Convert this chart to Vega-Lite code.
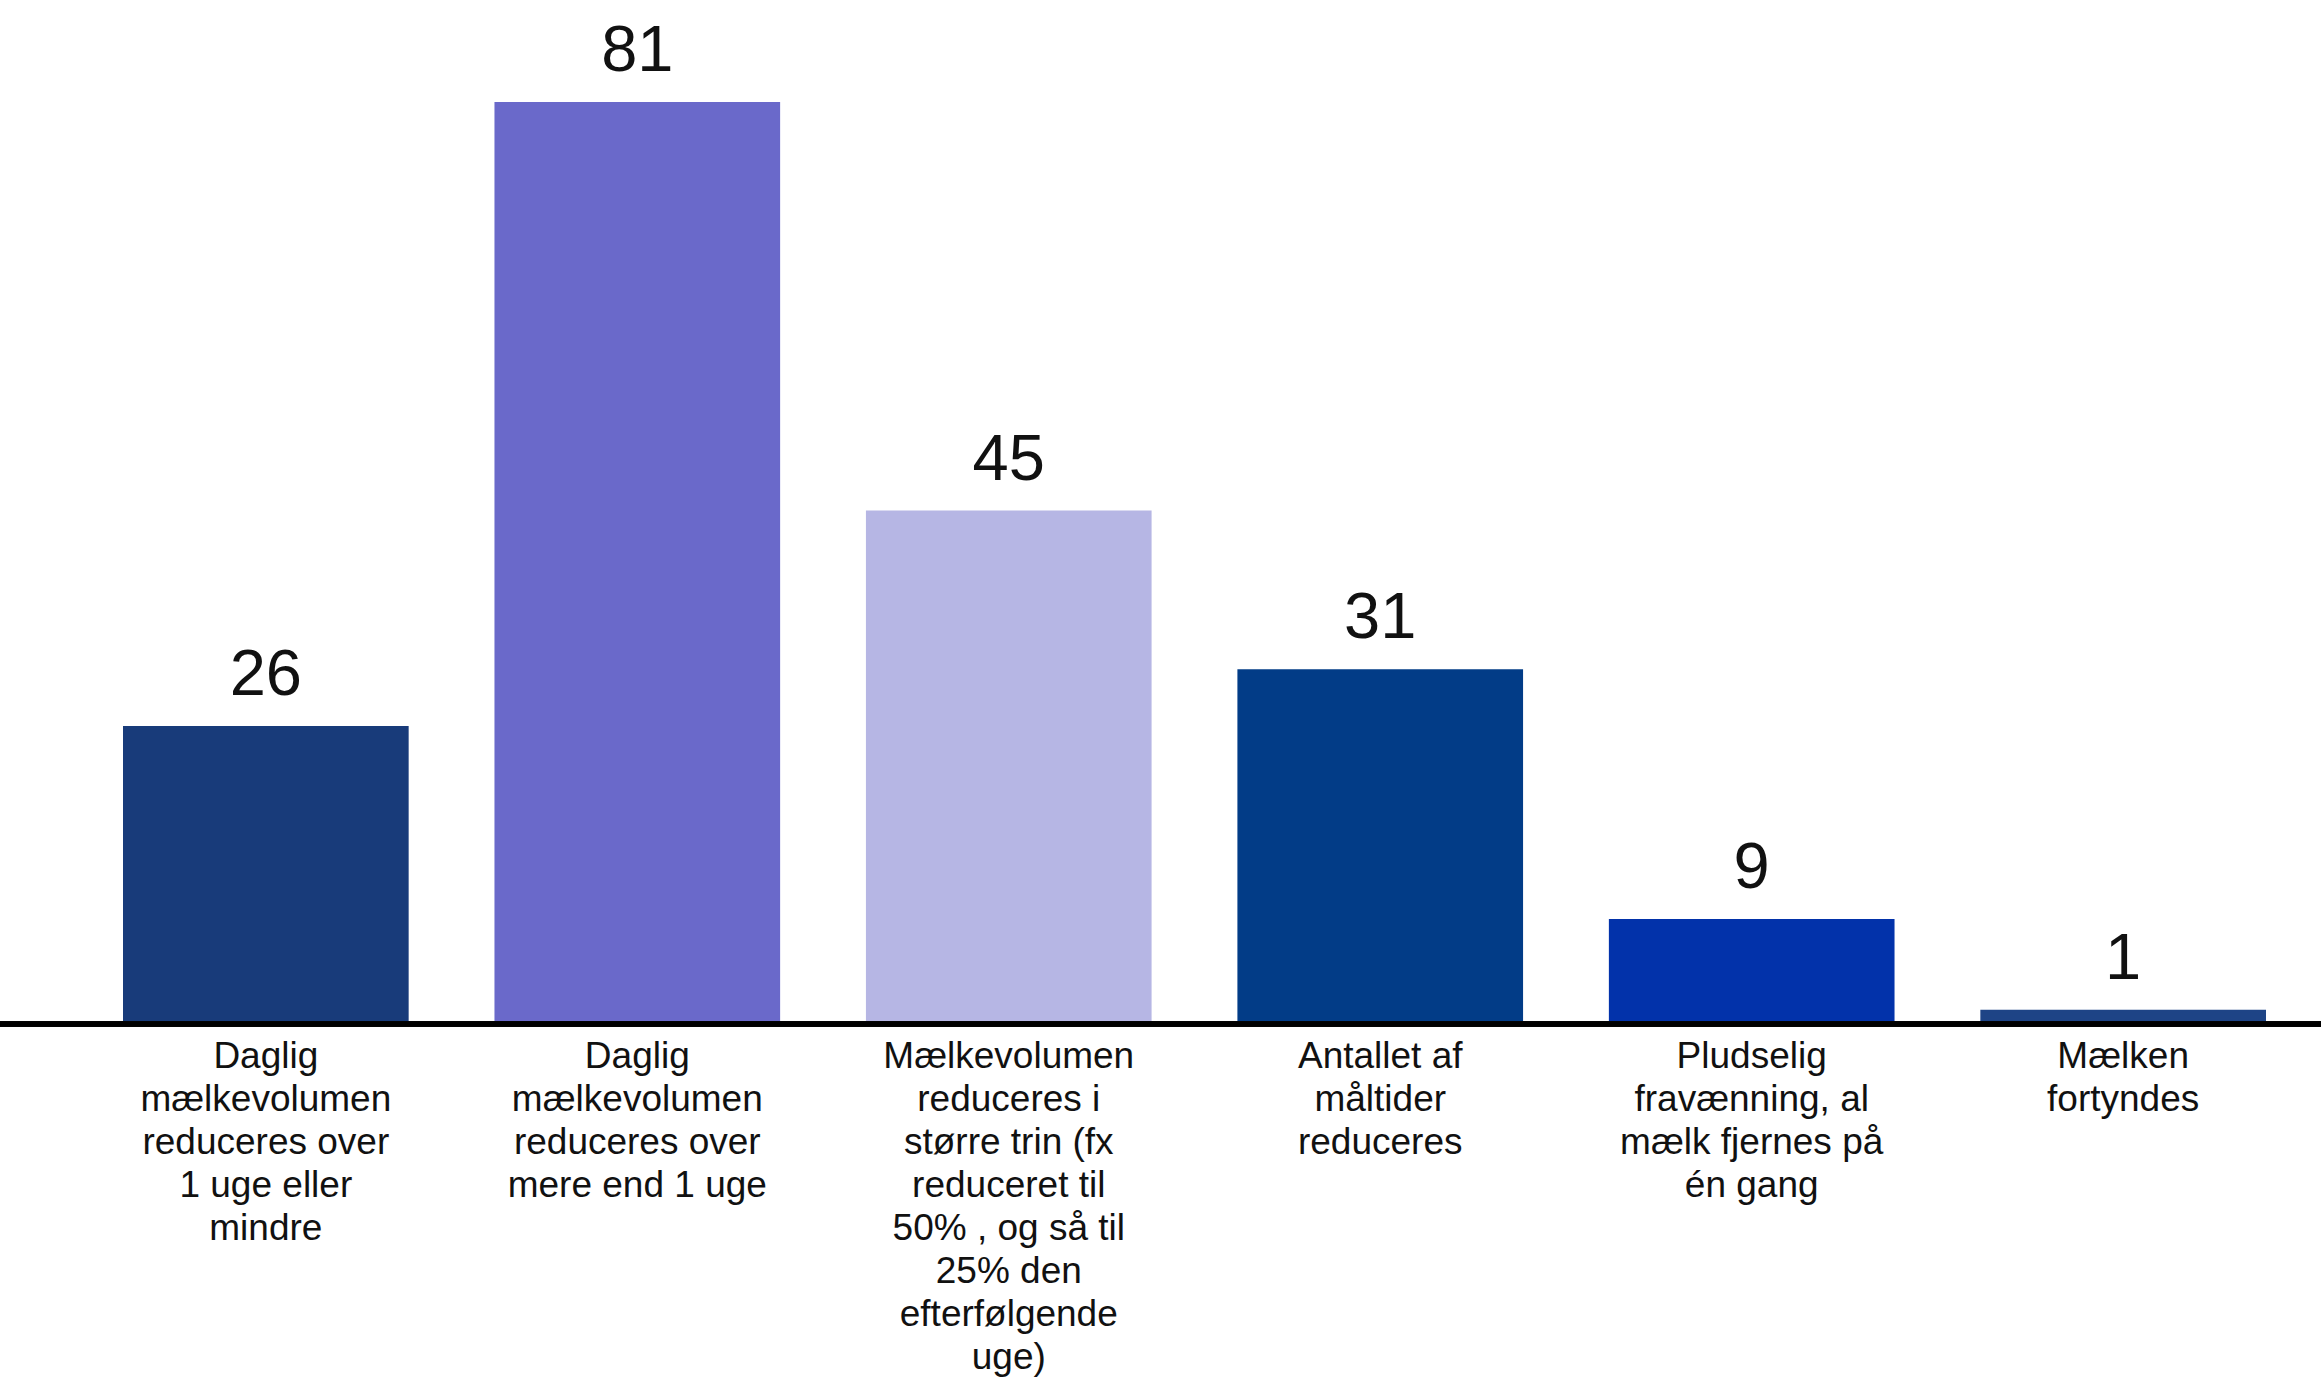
{
  "$schema": "https://vega.github.io/schema/vega-lite/v6.json",
  "width": 2321,
  "height": 1021,
  "autosize": {"type": "none"},
  "padding": {"left": 0, "top": 0, "right": 0, "bottom": 358},
  "background": "white",
  "config": {"view": {"stroke": null}},
  "data": {
    "values": [
      {"kategori": "Daglig\nmælkevolumen\nreduceres over\n1 uge eller\nmindre", "antal": 26},
      {"kategori": "Daglig\nmælkevolumen\nreduceres over\nmere end 1 uge", "antal": 81},
      {"kategori": "Mælkevolumen\nreduceres i\nstørre trin (fx\nreduceret til\n50% , og så til\n25% den\nefterfølgende\nuge)", "antal": 45},
      {"kategori": "Antallet af\nmåltider\nreduceres", "antal": 31},
      {"kategori": "Pludselig\nfravænning, al\nmælk fjernes på\nén gang", "antal": 9},
      {"kategori": "Mælken\nfortyndes", "antal": 1}
    ]
  },
  "layer": [
    {
      "mark": {"type": "bar"},
      "encoding": {
        "x": {
          "field": "kategori", "type": "nominal", "sort": null,
          "scale": {"range": [123, 2266], "paddingInner": 0.231, "paddingOuter": 0},
          "axis": {
            "title": null, "domain": false, "ticks": false, "labelAngle": 0,
            "labelFont": "Liberation Sans", "labelFontSize": 37, "labelLineHeight": 43,
            "labelColor": "#111111", "labelPadding": 17, "labelBaseline": "top",
            "labelLimit": 0, "labelOverlap": false,
            "labelExpr": "split(datum.value, '\\n')"
          }
        },
        "y": {"field": "antal", "type": "quantitative", "scale": {"domain": [0, 90]}, "axis": null},
        "color": {
          "field": "kategori", "type": "nominal", "sort": null, "legend": null,
          "scale": {"range": ["#183B7A", "#6A69CA", "#B6B6E4", "#023C87", "#0232AA", "#1E4486"]}
        }
      }
    },
    {
      "mark": {"type": "text", "baseline": "alphabetic", "dy": -31, "fontSize": 65, "font": "Liberation Sans", "color": "#111111"},
      "encoding": {
        "x": {"field": "kategori", "type": "nominal", "sort": null},
        "y": {"field": "antal", "type": "quantitative"},
        "text": {"field": "antal", "type": "quantitative"}
      }
    },
    {
      "mark": {"type": "rule", "color": "#000000", "strokeWidth": 5, "yOffset": 3},
      "encoding": {"y": {"datum": 0, "type": "quantitative"}}
    }
  ]
}
